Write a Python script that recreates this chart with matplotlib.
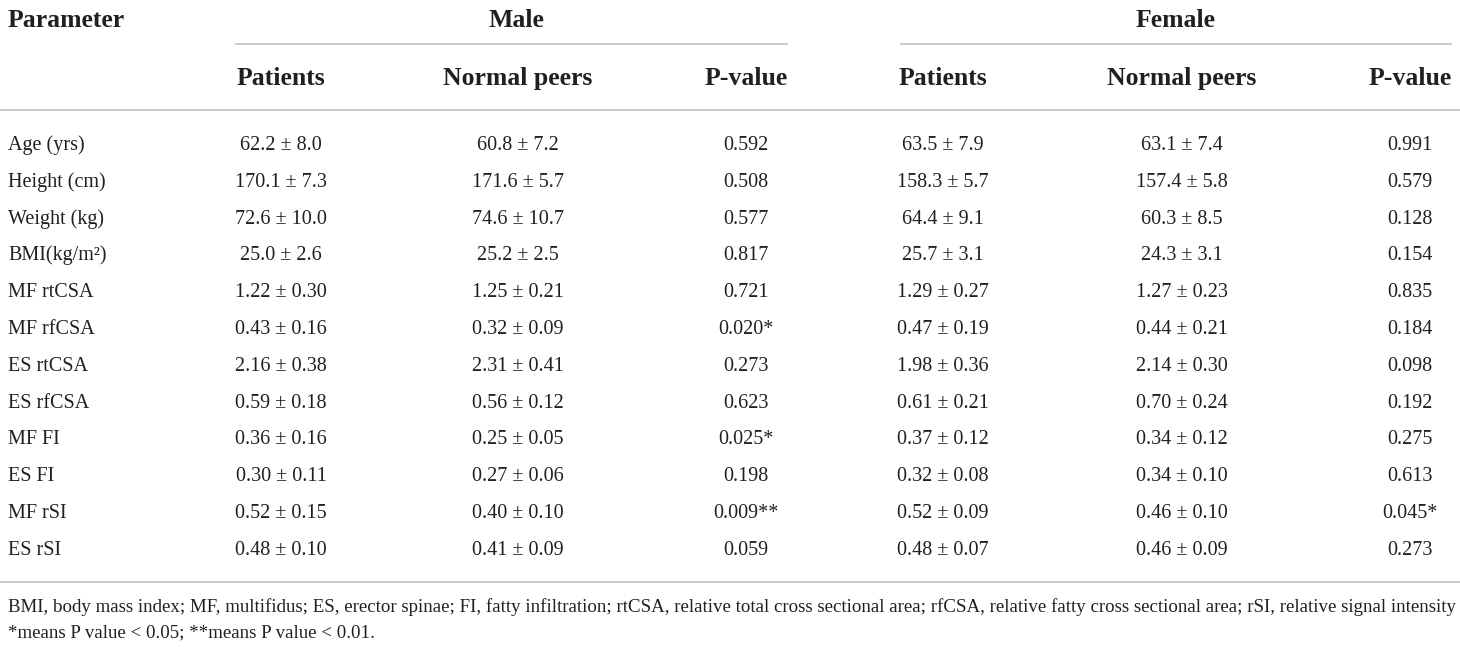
import matplotlib
matplotlib.use("Agg")
import matplotlib.pyplot as plt

W, H = 1460, 647
DPI = 100

parameters = ["Age (yrs)", "Height (cm)", "Weight (kg)", "BMI(kg/m²)", "MF rtCSA", "MF rfCSA",
              "ES rtCSA", "ES rfCSA", "MF FI", "ES FI", "MF rSI", "ES rSI"]
male_patients = ["62.2 ± 8.0", "170.1 ± 7.3", "72.6 ± 10.0", "25.0 ± 2.6", "1.22 ± 0.30", "0.43 ± 0.16",
                 "2.16 ± 0.38", "0.59 ± 0.18", "0.36 ± 0.16", "0.30 ± 0.11", "0.52 ± 0.15", "0.48 ± 0.10"]
male_peers = ["60.8 ± 7.2", "171.6 ± 5.7", "74.6 ± 10.7", "25.2 ± 2.5", "1.25 ± 0.21", "0.32 ± 0.09",
              "2.31 ± 0.41", "0.56 ± 0.12", "0.25 ± 0.05", "0.27 ± 0.06", "0.40 ± 0.10", "0.41 ± 0.09"]
male_p = ["0.592", "0.508", "0.577", "0.817", "0.721", "0.020*", "0.273", "0.623", "0.025*", "0.198",
          "0.009**", "0.059"]
female_patients = ["63.5 ± 7.9", "158.3 ± 5.7", "64.4 ± 9.1", "25.7 ± 3.1", "1.29 ± 0.27", "0.47 ± 0.19",
                   "1.98 ± 0.36", "0.61 ± 0.21", "0.37 ± 0.12", "0.32 ± 0.08", "0.52 ± 0.09", "0.48 ± 0.07"]
female_peers = ["63.1 ± 7.4", "157.4 ± 5.8", "60.3 ± 8.5", "24.3 ± 3.1", "1.27 ± 0.23", "0.44 ± 0.21",
                "2.14 ± 0.30", "0.70 ± 0.24", "0.34 ± 0.12", "0.34 ± 0.10", "0.46 ± 0.10", "0.46 ± 0.09"]
female_p = ["0.991", "0.579", "0.128", "0.154", "0.835", "0.184", "0.098", "0.192", "0.275", "0.613",
            "0.045*", "0.273"]
groups = ["Male", "Female"]
sub_headers = ["Patients", "Normal peers", "P-value"]
footnotes = ["BMI, body mass index; MF, multifidus; ES, erector spinae; FI, fatty infiltration; rtCSA, "
             "relative total cross sectional area; rfCSA, relative fatty cross sectional area; rSI, relative signal intensity",
             "*means P value < 0.05; **means P value < 0.01."]

FONT = "Liberation Serif"
TXT = "#231f20"
LINE = "#c8c8c8"
HEAD_FS = 18.5
BODY_FS = 14.5
FOOT_FS = 13.6

fig = plt.figure(figsize=(W / DPI, H / DPI), dpi=DPI)
ax = fig.add_axes([0, 0, 1, 1])
ax.set_xlim(0, W)
ax.set_ylim(H, 0)
ax.axis("off")

col_x = [[281, 518, 746], [943, 1182, 1410]]
group_x = [516, 1176]
group_line = [(235, 788), (900, 1452)]

# headers
ax.text(8, 27, "Parameter", fontsize=HEAD_FS, fontweight="bold", family=FONT, color=TXT,
        va="baseline", ha="left")
for g, gx, (x0, x1), cx in zip(groups, group_x, group_line, col_x):
    ax.text(gx, 27, g, fontsize=HEAD_FS, fontweight="bold", family=FONT, color=TXT,
            va="baseline", ha="center")
    ax.plot([x0, x1], [44, 44], color=LINE, lw=1.3, solid_capstyle="butt")
    for s, x in zip(sub_headers, cx):
        ax.text(x, 85, s, fontsize=HEAD_FS, fontweight="bold", family=FONT, color=TXT,
                va="baseline", ha="center")

ax.plot([0, W], [110, 110], color=LINE, lw=1.3)
ax.plot([0, W], [582, 582], color=LINE, lw=1.3)

columns = [[male_patients, male_peers, male_p], [female_patients, female_peers, female_p]]
y0, dy = 150, 36.8
for i, p in enumerate(parameters):
    y = y0 + i * dy
    ax.text(8, y, p, fontsize=BODY_FS, family=FONT, color=TXT, va="baseline", ha="left")
    for cols, cx in zip(columns, col_x):
        for vals, x in zip(cols, cx):
            ax.text(x, y, vals[i], fontsize=BODY_FS, family=FONT, color=TXT, va="baseline", ha="center")

ax.text(8, 612, footnotes[0], fontsize=FOOT_FS, family=FONT, color=TXT, va="baseline", ha="left")
ax.text(8, 637, footnotes[1], fontsize=FOOT_FS, family=FONT, color=TXT, va="baseline", ha="left")

fig.savefig("out.png", dpi=DPI)
